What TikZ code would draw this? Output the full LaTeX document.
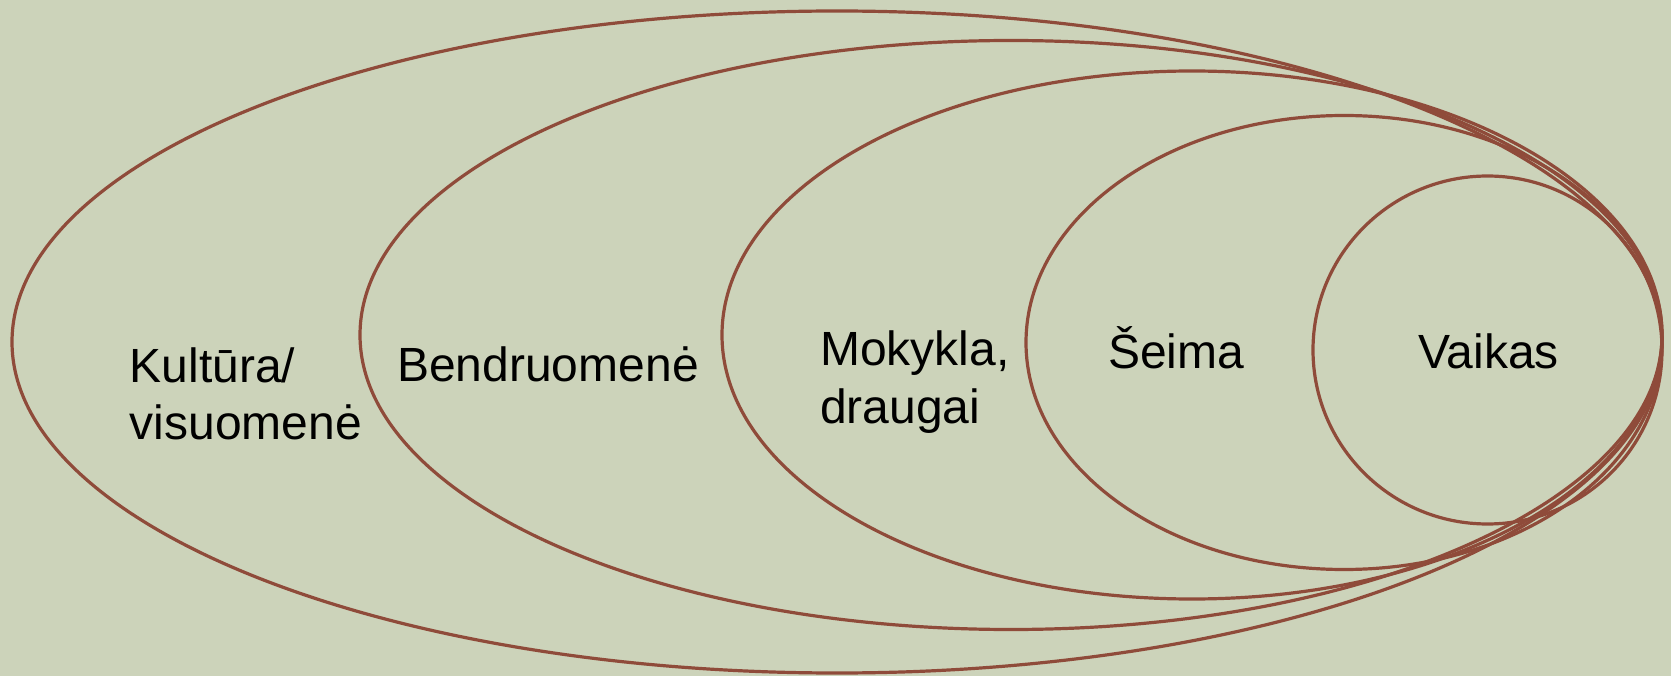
\documentclass[tikz,border=0pt]{standalone}
\usepackage{xcolor}
\usepackage{tikz}
\usepackage{fontspec}
\setmainfont{Liberation Sans}
\definecolor{bg}{RGB}{204,211,186}
\definecolor{ringbrown}{RGB}{143,75,58}

\begin{document}
\begin{tikzpicture}[x=1pt,
				y=-1pt,
				ring/.style={draw=ringbrown, line width=3.2pt},
				lbl/.style={anchor=base west, align=left, inner sep=0pt, font=\fontsize{48}{57.5}\selectfont}]
				\fill[bg] (0,0) rectangle (1671,676);
				\useasboundingbox (0,0) rectangle (1671,676);
				\draw[ring] (837,342) ellipse [x radius=825pt, y radius=331pt];
				\draw[ring] (1011,335) ellipse [x radius=651pt, y radius=294.5pt];
				\draw[ring] (1192,335) ellipse [x radius=470pt, y radius=264pt];
				\draw[ring] (1344,342.5) ellipse [x radius=318pt, y radius=227pt];
				\draw[ring] (1487.5,350) ellipse [x radius=174.5pt, y radius=174pt];
				% last line sets the base
				\node at (129.5,439.6) (kult) [lbl] {Kultūra/\\visuomenė};
				\node at (397,381.5) (bend) [lbl] {Bendruomenė};
				\node at (820,423.3) (mok) [lbl] {Mokykla,\\draugai};
				\node at (1108,368.3) (seima) [lbl] {Šeima};
				\node at (1418,368.3) (vaik) [lbl] {Vaikas};
			\end{tikzpicture}
\end{document}
